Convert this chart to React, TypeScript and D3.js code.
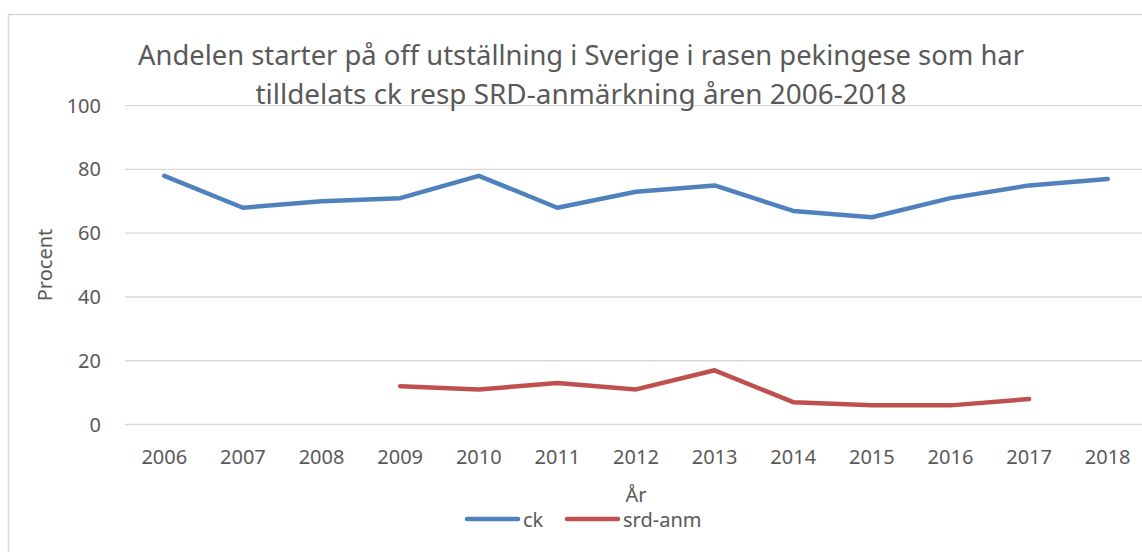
import React, { useEffect, useRef } from "react";
import * as d3 from "d3";

const years = ["2006", "2007", "2008", "2009", "2010", "2011", "2012", "2013", "2014", "2015", "2016", "2017", "2018"];
const ckValues = [78, 68, 70, 71, 78, 68, 73, 75, 67, 65, 71, 75, 77];
const srdYears = ["2009", "2010", "2011", "2012", "2013", "2014", "2015", "2016", "2017"];
const srdValues = [12, 11, 13, 11, 17, 7, 6, 6, 8];
const yTicks = [0, 20, 40, 60, 80, 100];
const titleLines = [
  "Andelen starter på off utställning i Sverige i rasen pekingese som har",
  "tilldelats ck resp SRD-anmärkning åren 2006-2018",
];

const FONT = "'Noto Sans', 'Open Sans', sans-serif";
const TEXT = "#595959";
const GRID = "#d9d9d9";

export default function App() {
  const ref = useRef<SVGSVGElement>(null);

  useEffect(() => {
    const svg = d3.select(ref.current);
    svg.selectAll("*").remove();

    const width = 1142;
    const height = 552;

    const x = d3.scaleBand().domain(years).range([125, 1147]);
    const y = d3.scaleLinear().domain([0, 100]).range([424.5, 105.7]);
    const cx = (d: string) => (x(d) as number) + x.bandwidth() / 2;

    svg.attr("width", width).attr("height", height);

    // chart frame (runs off the right and bottom edge)
    svg.append("rect")
      .attr("x", 8.5)
      .attr("y", 14.5)
      .attr("width", width)
      .attr("height", height)
      .attr("fill", "#fff")
      .attr("stroke", GRID)
      .attr("stroke-width", 1.5);

    // gridlines
    svg.append("g")
      .selectAll("line")
      .data(yTicks)
      .join("line")
      .attr("x1", 125)
      .attr("x2", 1147)
      .attr("y1", d => y(d))
      .attr("y2", d => y(d))
      .attr("stroke", GRID)
      .attr("stroke-width", 1.3);

    // y tick labels
    svg.append("g")
      .selectAll("text")
      .data(yTicks)
      .join("text")
      .attr("x", 101)
      .attr("y", d => y(d))
      .attr("dy", "0.35em")
      .attr("text-anchor", "end")
      .attr("font-family", FONT)
      .attr("font-size", 20)
      .attr("fill", TEXT)
      .text(d => d);

    // x tick labels
    svg.append("g")
      .selectAll("text")
      .data(years)
      .join("text")
      .attr("x", d => cx(d))
      .attr("y", 463.5)
      .attr("text-anchor", "middle")
      .attr("font-family", FONT)
      .attr("font-size", 20)
      .attr("fill", TEXT)
      .text(d => d);

    // title
    svg.append("g")
      .selectAll("text")
      .data(titleLines)
      .join("text")
      .attr("x", 581)
      .attr("y", (d, i) => (i === 0 ? 65 : 104))
      .attr("text-anchor", "middle")
      .attr("font-family", FONT)
      .attr("font-size", 27)
      .attr("fill", TEXT)
      .attr("textLength", (d, i) => (i === 0 ? 886 : 651))
      .attr("lengthAdjust", "spacingAndGlyphs")
      .text(d => d);

    // axis titles
    svg.append("text")
      .attr("transform", "translate(52,265) rotate(-90)")
      .attr("text-anchor", "middle")
      .attr("font-family", FONT)
      .attr("font-size", 20)
      .attr("fill", TEXT)
      .text("Procent");

    svg.append("text")
      .attr("x", 636)
      .attr("y", 502)
      .attr("text-anchor", "middle")
      .attr("font-family", FONT)
      .attr("font-size", 20)
      .attr("fill", TEXT)
      .text("År");

    // lines
    const line = d3.line<[string, number]>()
      .x(d => cx(d[0]))
      .y(d => y(d[1]));

    svg.append("path")
      .datum(years.map((yr, i) => [yr, ckValues[i]] as [string, number]))
      .attr("fill", "none")
      .attr("stroke", "#4f81bd")
      .attr("stroke-width", 4.5)
      .attr("stroke-linecap", "round")
      .attr("stroke-linejoin", "round")
      .attr("d", line);

    svg.append("path")
      .datum(srdYears.map((yr, i) => [yr, srdValues[i]] as [string, number]))
      .attr("fill", "none")
      .attr("stroke", "#c0504d")
      .attr("stroke-width", 4.5)
      .attr("stroke-linecap", "round")
      .attr("stroke-linejoin", "round")
      .attr("d", line);

    // legend
    const legend = [
      { name: "ck", color: "#4f81bd", x: 465 },
      { name: "srd-anm", color: "#c0504d", x: 565 },
    ];
    const lg = svg.append("g")
      .selectAll("g")
      .data(legend)
      .join("g");
    lg.append("line")
      .attr("x1", d => d.x + 2)
      .attr("x2", d => d.x + 53)
      .attr("y1", 519)
      .attr("y2", 519)
      .attr("stroke", d => d.color)
      .attr("stroke-width", 4.5)
      .attr("stroke-linecap", "round");
    lg.append("text")
      .attr("x", d => d.x + 58)
      .attr("y", 527)
      .attr("font-family", FONT)
      .attr("font-size", 20)
      .attr("fill", TEXT)
      .text(d => d.name);
  }, []);

  return (
    <div style={{ position: "absolute", left: 0, top: 0 }}>
      <svg ref={ref} style={{ display: "block" }}></svg>
    </div>
  );
}
